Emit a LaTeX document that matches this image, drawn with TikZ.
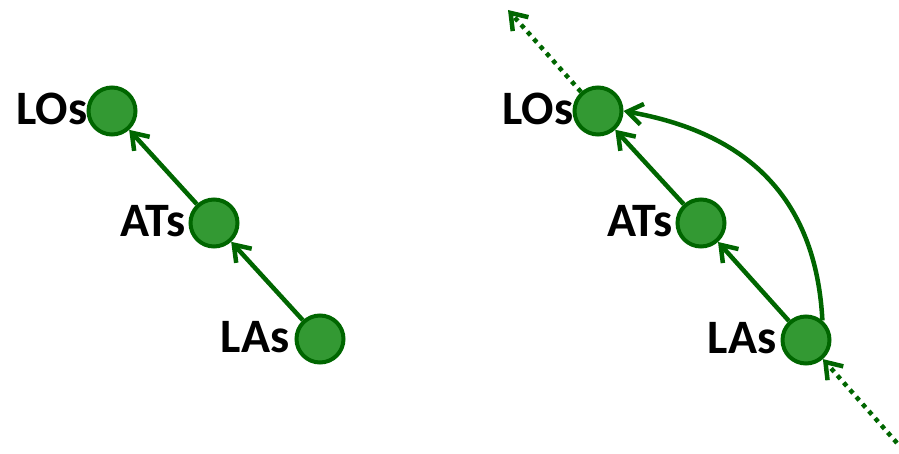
\documentclass[tikz,border=0pt]{standalone}
\usepackage{fontspec}
\setmainfont{Carlito}
\usetikzlibrary{arrows.meta}
\definecolor{nodefill}{HTML}{339933}
\definecolor{darkgr}{HTML}{006600}
\begin{document}
\begin{tikzpicture}[x=1pt,y=1pt,
  dot/.style={circle, draw=darkgr, fill=nodefill, line width=4pt, minimum size=47pt, inner sep=0pt},
  lbl/.style={font=\fontsize{48}{56}\selectfont\bfseries, inner sep=0pt, anchor=east, text=black},
  arr/.style={draw=darkgr, line width=4.5pt, -{Straight Barb[length=15pt,width=21pt,line width=4.5pt]}},
  dotarr/.style={arr, dash pattern=on 4.5pt off 5pt}]
\useasboundingbox (0,0) rectangle (899,453);
% left
\node[dot] (lo1) at (112,342) {};
\node[dot] (at1) at (214,230) {};
\node[dot] (la1) at (320,114) {};
\node[lbl] (lo1l) at ([xshift=1pt,yshift=2pt]lo1.west) {LOs};
\node[lbl] (at1l) at ([xshift=-3pt,yshift=2pt]at1.west) {ATs};
\node[lbl] (la1l) at ([xshift=-5pt,yshift=2pt]la1.west) {LAs};
\draw[arr] (at1) -- (lo1);
\draw[arr] (la1) -- (at1);
% right
\node[dot] (lo2) at (598,342) {};
\node[dot] (at2) at (701,230) {};
\node[dot] (la2) at (806,113) {};
\node[lbl] (lo2l) at ([xshift=1pt,yshift=2pt]lo2.west) {LOs};
\node[lbl] (at2l) at ([xshift=-3pt,yshift=2pt]at2.west) {ATs};
\node[lbl] (la2l) at ([xshift=-4pt,yshift=2pt]la2.west) {LAs};
\draw[arr] (at2) -- (lo2);
\draw[arr] (la2) -- (at2);
\draw[arr] (la2.50) to[out=93,in=-10,looseness=1.1] (lo2.east);
\coordinate (topend) at (508,443);
\coordinate (botstart) at (897,10);
\draw[dotarr] (lo2) -- (topend);
\draw[dotarr] (botstart) -- (la2);
\end{tikzpicture}
\end{document}
